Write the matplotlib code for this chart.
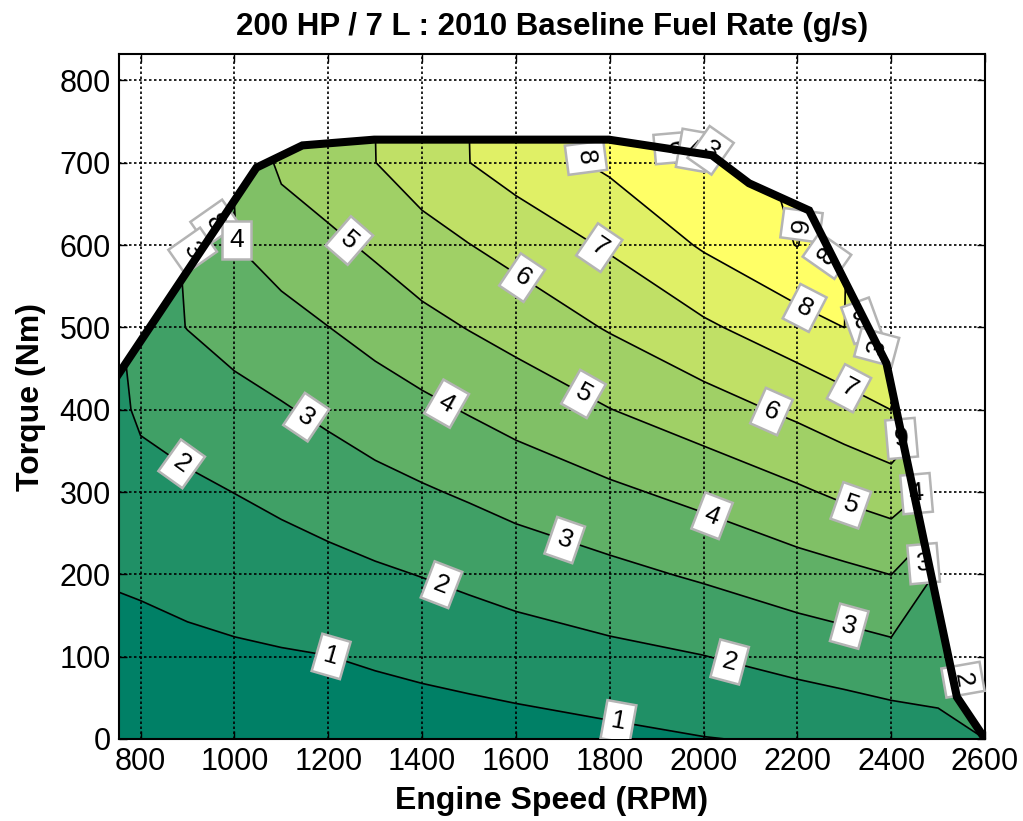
import matplotlib
matplotlib.use("Agg")
import matplotlib.pyplot as plt
import numpy as np
from matplotlib.patches import Polygon

plt.rcParams['font.family'] = ['Liberation Sans', 'DejaVu Sans']

# engine map grid
speed = [754, 800, 900, 1000, 1100, 1200, 1300, 1400, 1500, 1600, 1800, 2000, 2200, 2300, 2400, 2500, 2600]
torque = [0, 100, 200, 300, 400, 500, 600, 700, 800]
fuel_rate = [
    [0.20, 0.22, 0.26, 0.30, 0.33, 0.37, 0.42, 0.48, 0.55, 0.62, 0.78, 0.97, 1.10, 1.23, 1.39, 1.70, 2.00],
    [0.64, 0.68, 0.78, 0.86, 0.93, 0.99, 1.12, 1.25, 1.37, 1.50, 1.75, 1.98, 2.34, 2.51, 2.69, 2.50, 2.20],
    [1.10, 1.15, 1.30, 1.44, 1.56, 1.71, 1.87, 2.03, 2.21, 2.41, 2.75, 3.13, 3.58, 3.78, 4.01, 2.90, 2.40],
    [1.45, 1.65, 1.83, 2.01, 2.22, 2.44, 2.68, 2.90, 3.12, 3.37, 3.82, 4.29, 4.86, 5.19, 5.48, 4.76, 3.50],
    [1.80, 2.16, 2.41, 2.68, 2.92, 3.20, 3.51, 3.78, 4.07, 4.37, 4.98, 5.56, 6.21, 6.59, 7.005, 6.00, 4.50],
    [1.90, 2.60, 3.02, 3.36, 3.66, 3.99, 4.34, 4.71, 5.04, 5.36, 6.08, 6.84, 7.60, 8.005, 7.02, 6.50, 5.20],
    [2.00, 2.80, 3.04, 3.98, 4.43, 4.78, 5.17, 5.62, 5.98, 6.34, 7.12, 8.11, 9.03, 8.02, 7.50, 6.80, 5.60],
    [2.10, 3.00, 3.30, 4.02, 5.20, 5.60, 5.99, 6.52, 6.99, 7.44, 8.19, 8.30, 9.30, 8.20, 7.80, 7.00, 5.90],
    [2.20, 3.20, 3.50, 4.10, 5.50, 5.90, 6.01, 6.90, 7.01, 7.70, 8.10, 8.50, 9.50, 8.30, 8.00, 7.10, 6.10],
]

# max torque curve
curve_speed = [754, 1047, 1145, 1298, 1798, 2018, 2097, 2225, 2390, 2540, 2600]
curve_torque = [444, 694, 721, 728, 728, 709, 675, 642, 456, 51, 0]

levels = [1, 2, 3, 4, 5, 6, 7, 8, 9]
label_spots = [(1200, 90), (1820, 25), (890, 336), (1439, 184), (2054, 90),
               (1152, 390), (1705, 243), (2310, 136), (1450, 405), (2018, 271),
               (1241, 603), (1745, 420), (2314, 284), (1608, 556), (2141, 393),
               (1773, 593), (2310, 426), (1751, 706), (2213, 521), (2195, 625)]

# leftover labels of the contours that run along the torque curve
edge_labels = [(958, 627, '8', -55), (911, 593, '3', -55), (1005, 606, '4', 0),
               (1937, 718, '6', -85), (1979, 715, '4', -10), (2015, 715, '3', -35),
               (2263, 587, '8', 55), (2337, 508, '8', 20), (2369, 476, '3', 75),
               (2422, 365, '9', 5), (2454, 298, '4', 5), (2469, 213, '3', 5),
               (2553, 72, '2', -80)]

fig = plt.figure(figsize=(10.23, 8.21), dpi=100)
ax = fig.add_axes([0.1163, 0.0999, 0.8466, 0.8343])

X, Y = np.meshgrid(speed, torque)
Z = np.array(fuel_rate)
cmap = plt.get_cmap('summer')
band_colors = [cmap(min(k / 8, 1.0)) for k in range(10)]

cf = ax.contourf(X, Y, Z, levels=range(0, 11), colors=band_colors, zorder=1)
cl = ax.contour(X, Y, Z, levels=levels, colors='k', linewidths=1.2, zorder=2)

clip = Polygon(list(zip(curve_speed + [curve_speed[0]], curve_torque + [0])),
               closed=True, transform=ax.transData)
cf.set_clip_path(clip)
cl.set_clip_path(clip)

box = dict(boxstyle='square,pad=0.28', fc='white', ec='#b4b4b4', lw=1.8)
texts = ax.clabel(cl, manual=label_spots, fmt='%d', fontsize=19, inline=True, inline_spacing=6)
for t in texts:
    t.set_bbox(box)
    t.set_zorder(3)

for x, y, s, rot in edge_labels:
    ax.text(x, y, s, fontsize=19, rotation=rot, ha='center', va='center',
            rotation_mode='anchor', bbox=box, zorder=3)

ax.plot(curve_speed, curve_torque, color='k', lw=5.8, solid_joinstyle='miter', zorder=5)

ax.set_xlim(754, 2600)
ax.set_ylim(0, 832)
ax.set_xticks(range(800, 2601, 200))
ax.set_yticks(range(0, 801, 100))
ax.set_axisbelow(False)
ax.grid(True, color='k', linestyle=(0, (1.5, 1.5)), linewidth=1.2)
ax.tick_params(direction='in', top=True, right=True, length=6, width=1, labelsize=22, pad=6)
for s in ax.spines.values():
    s.set_linewidth(1.5)

ax.set_xlabel('Engine Speed (RPM)', fontsize=23, fontweight='bold', labelpad=6)
ax.set_ylabel('Torque (Nm)', fontsize=23, fontweight='bold', labelpad=10)
ax.set_title('200 HP / 7 L : 2010 Baseline Fuel Rate (g/s)', fontsize=22.5, fontweight='bold', pad=14)

fig.savefig('out.png', dpi=100)
